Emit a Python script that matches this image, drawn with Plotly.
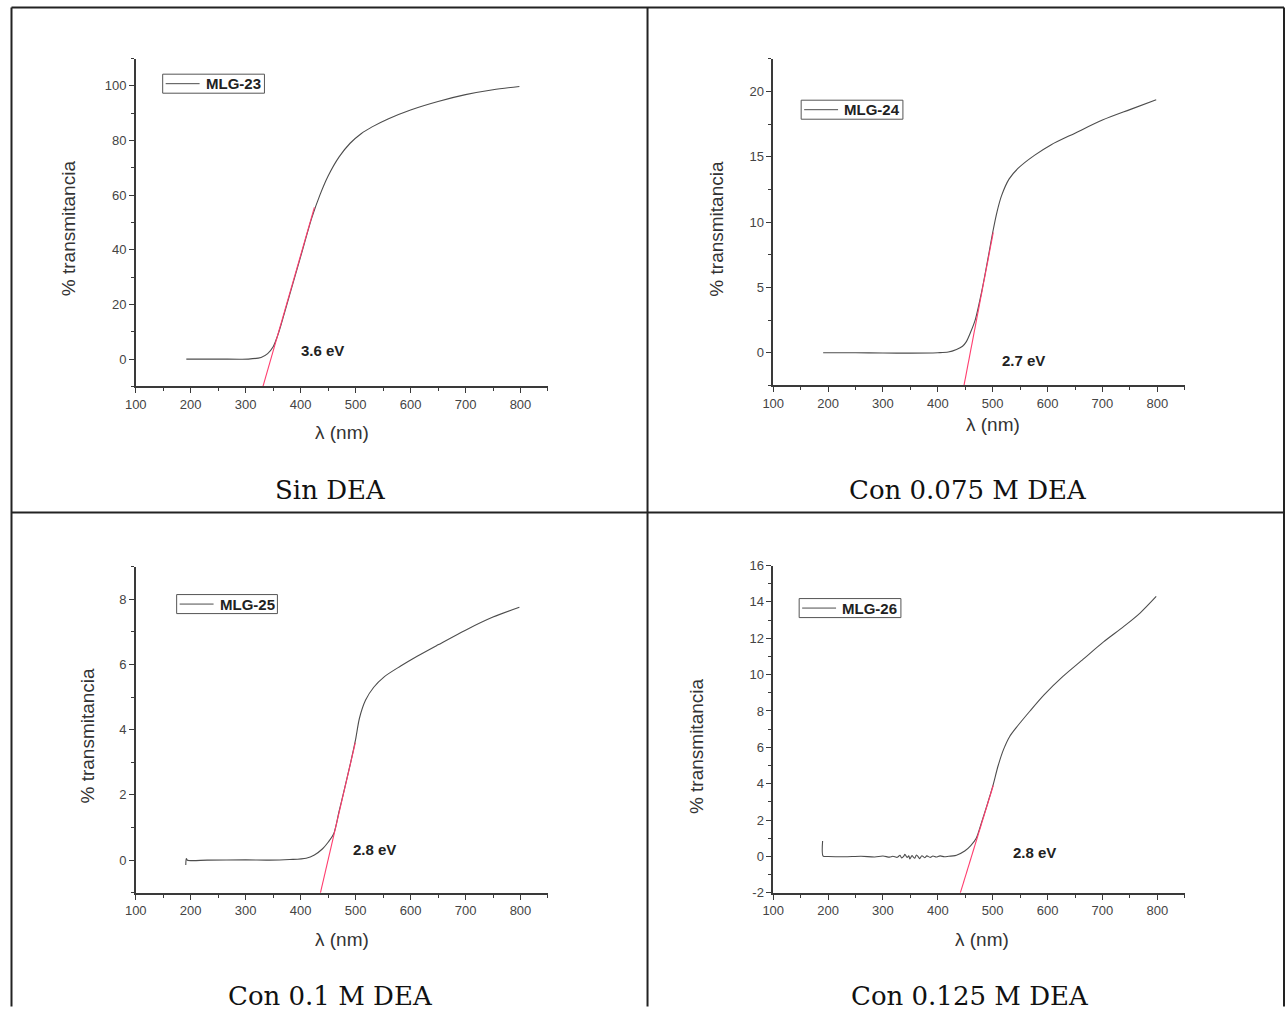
import plotly.graph_objects as go

# Page geometry: the figure sits after an 8 px body margin and the captured page
# (about 1293 x 1031) is resized to 1285 x 1015, so positions are pre-compensated.
W, H = 1285, 1015
OFF = 8
S_X, S_Y = 1293 / 1285, 1031 / 1015

# ---------------- data ----------------
x_ticks = [100, 200, 300, 400, 500, 600, 700, 800]
y_ticks = [
    [0, 20, 40, 60, 80, 100],
    [0, 5, 10, 15, 20],
    [0, 2, 4, 6, 8],
    [-2, 0, 2, 4, 6, 8, 10, 12, 14, 16],
]

# MLG-23  (Sin DEA)
wl_23 = [192, 250, 305, 328, 340, 350, 358, 365, 380, 400, 420, 435, 450, 470, 490, 510, 530, 560, 600, 650, 700, 750, 798]
t_23 = [0.0, 0.0, 0.0, 0.6, 2.0, 4.5, 8.5, 13.0, 23.5, 37.5, 51.5, 60.0, 67.0, 74.0, 79.0, 82.5, 85.0, 88.0, 91.2, 94.3, 96.8, 98.6, 99.8]
fit_23_x = [331.5, 425]
fit_23_y = [-10, 55.5]

# MLG-24  (Con 0.075 M DEA)
wl_24 = [191, 250, 300, 350, 400, 419, 434, 445, 452, 460, 468, 480, 490, 500, 508, 516, 530, 546, 576, 606, 650, 700, 750, 798]
t_24 = [0.0, 0.0, -0.02, -0.03, 0.0, 0.05, 0.25, 0.5, 0.85, 1.6, 2.5, 4.7, 6.9, 9.2, 10.8, 12.0, 13.3, 14.1, 15.1, 15.9, 16.8, 17.8, 18.6, 19.35]
fit_24_x = [447.7, 501]
fit_24_y = [-2.5, 9.2]

# MLG-25  (Con 0.1 M DEA)
wl_25 = [191, 192, 194, 230, 300, 343, 380, 410, 425, 440, 450, 460, 470, 480, 490, 500, 507, 518, 533, 552, 582, 612, 650, 700, 750, 798]
t_25 = [-0.15, 0.05, 0.0, 0.0, 0.01, 0.0, 0.02, 0.06, 0.16, 0.35, 0.55, 0.8, 1.5, 2.2, 2.92, 3.7, 4.35, 4.9, 5.3, 5.62, 5.95, 6.25, 6.6, 7.05, 7.45, 7.75]
fit_25_x = [436, 499.5]
fit_25_y = [-1.0, 3.6]

# MLG-26  (Con 0.125 M DEA)
wl_26 = [190, 191, 200, 230, 260, 285, 300, 312, 318, 326, 331, 334, 338, 340, 344, 347, 349, 353, 355, 358, 361, 365, 367, 371, 376, 380,
         386, 391, 397, 404, 412, 420, 428, 434, 449, 460, 470, 480, 490, 500, 510, 520, 531, 546, 568, 594, 628, 665, 702, 739, 769, 798]
t_26 = [0.85, 0.02, 0.0, -0.02, 0.01, -0.03, 0.02, -0.04, 0.01, -0.05, 0.06, -0.08, 0.02, 0.12, -0.06, 0.03, -0.14, 0.05, -0.02, -0.1, 0.08, -0.05, -0.12, 0.04, -0.07, 0.03,
        -0.05, 0.02, -0.03, 0.03, -0.02, 0.01, 0.03, 0.07, 0.3, 0.6, 1.0, 1.9, 2.85, 3.85, 5.0, 5.9, 6.6, 7.2, 8.0, 8.9, 9.9, 10.85, 11.8, 12.65, 13.4, 14.3]
fit_26_x = [441, 501]
fit_26_y = [-2.0, 3.9]

samples = ["MLG-23", "MLG-24", "MLG-25", "MLG-26"]
captions = ["Sin DEA", "Con 0.075 M DEA", "Con 0.1 M DEA", "Con 0.125 M DEA"]
gaps = ["3.6 eV", "2.7 eV", "2.8 eV", "2.8 eV"]
gap_pos = [(440, 3.2), (557, -0.6), (535, 0.32), (576, 0.22)]

y_ranges = [[-10, 110], [-2.5, 22.5], [-1, 9], [-2, 16]]
y_minor = [10, 2.5, 1, 1]

# ---------------- layout helpers (target pixel -> paper) ----------------
def fx(px):
    v = (px * S_X - OFF) / W
    return min(max(v, 0.5 / W), 1 - 0.5 / W)

def fy(py):
    v = 1 - (py * S_Y - OFF) / H
    return min(max(v, 0.5 / H), 1 - 0.5 / H)

x_dom = [[133, 546.2], [772, 1184.5], [133, 546.2], [772, 1184.5]]
y_dom = [[387, 59.4], [386, 59.5], [893, 567], [893, 566]]
legend_box = [(160, 75, 262, 94), (800, 101, 902, 120), (174, 595, 275, 614), (798, 599, 900, 618)]
ytitle_pos = [(65, 229), (715, 229), (85, 736), (695, 746)]
xtitle_pos = [(340, 433), (992, 425), (340, 940), (981, 940)]
caption_pos = [(328, 491), (967, 491), (328, 996), (969, 996)]

curves = [(wl_23, t_23), (wl_24, t_24), (wl_25, t_25), (wl_26, t_26)]
fits = [(fit_23_x, fit_23_y), (fit_24_x, fit_24_y), (fit_25_x, fit_25_y), (fit_26_x, fit_26_y)]

CURVE = "#4d4d4d"
FIT = "#ff3d6e"
AX = "#3a3a3a"
TXT = "#444444"
SANS = "Liberation Sans, Arial, sans-serif"

fig = go.Figure()
annotations = []
shapes = []
layout = dict(
    width=W, height=H,
    margin=dict(l=0, r=0, t=0, b=0),
    paper_bgcolor="white", plot_bgcolor="white",
    showlegend=False,
)

for i in range(4):
    n = "" if i == 0 else str(i + 1)
    xa, ya = "x" + n, "y" + n
    wl, tr = curves[i]
    fig.add_trace(go.Scatter(
        x=wl, y=tr, mode="lines", name=samples[i],
        line=dict(color=CURVE, width=1.1, shape="spline", smoothing=0.8),
        xaxis=xa, yaxis=ya,
    ))
    fxs, fys = fits[i]
    fig.add_trace(go.Scatter(
        x=fxs, y=fys, mode="lines", name="ajuste " + samples[i],
        line=dict(color=FIT, width=1.1),
        xaxis=xa, yaxis=ya,
    ))

    common_tick = dict(
        ticks="outside", ticklen=5, tickwidth=1.2, tickcolor=AX,
        showline=True, linecolor=AX, linewidth=1.5,
        showgrid=False, zeroline=False,
        tickfont=dict(family=SANS, size=13, color=TXT),
        fixedrange=True,
    )
    layout["xaxis" + n] = dict(
        domain=[fx(x_dom[i][0]), fx(x_dom[i][1])],
        range=[100, 850], tickmode="array", tickvals=x_ticks,
        ticktext=[str(v) for v in x_ticks],
        minor=dict(dtick=50, tick0=0, ticks="outside", ticklen=3, tickcolor=AX, showgrid=False),
        anchor=ya, **common_tick,
    )
    layout["yaxis" + n] = dict(
        domain=[fy(y_dom[i][0]), fy(y_dom[i][1])],
        range=y_ranges[i], tickmode="array", tickvals=y_ticks[i],
        ticktext=[str(v) for v in y_ticks[i]],
        minor=dict(dtick=y_minor[i], tick0=0, ticks="outside", ticklen=3, tickcolor=AX, showgrid=False),
        anchor=xa, **common_tick,
    )

    # legend box (drawn in paper space)
    bx0, by0, bx1, by1 = legend_box[i]
    shapes.append(dict(type="rect", xref="paper", yref="paper",
                       x0=fx(bx0), y0=fy(by0), x1=fx(bx1), y1=fy(by1),
                       line=dict(color="#555555", width=1), fillcolor="white", layer="above"))
    ymid = (by0 + by1) / 2
    shapes.append(dict(type="line", xref="paper", yref="paper",
                       x0=fx(bx0 + 3), y0=fy(ymid), x1=fx(bx0 + 37), y1=fy(ymid),
                       line=dict(color=CURVE, width=1), layer="above"))
    annotations.append(dict(
        x=fx(bx0 + 71), y=fy(ymid), xref="paper", yref="paper",
        xanchor="center", yanchor="middle",
        text=samples[i], showarrow=False,
        font=dict(family=SANS, size=15, color="#222222", weight="bold"),
    ))

    # band-gap label
    annotations.append(dict(
        x=gap_pos[i][0], y=gap_pos[i][1], xref=xa, yref=ya,
        xanchor="center", yanchor="middle",
        text=gaps[i], showarrow=False,
        font=dict(family=SANS, size=15, color="#222222", weight="bold"),
    ))
    # axis titles
    annotations.append(dict(
        x=fx(ytitle_pos[i][0]), y=fy(ytitle_pos[i][1]), xref="paper", yref="paper",
        xanchor="center", yanchor="middle",
        text="% transmitancia", textangle=-90, showarrow=False,
        font=dict(family=SANS, size=19, color="#333333"),
    ))
    annotations.append(dict(
        x=fx(xtitle_pos[i][0]), y=fy(xtitle_pos[i][1]), xref="paper", yref="paper",
        xanchor="center", yanchor="middle",
        text="λ (nm)", showarrow=False,
        font=dict(family=SANS, size=19, color="#333333"),
    ))
    # caption
    cx, cy = caption_pos[i]
    annotations.append(dict(
        x=fx(cx), y=fy(cy), xref="paper", yref="paper",
        xanchor="center", yanchor="middle",
        text=captions[i], showarrow=False, borderpad=0,
        font=dict(family="DejaVu Serif, serif", size=26, color="#111111"),
    ))

# table borders
border = dict(color="#222222", width=2)
for (x0, y0, x1, y1) in [(7, 6, 1284, 6), (7, 513, 1284, 513), (7, 6, 7, 1015), (646, 6, 646, 1015), (1284, 6, 1284, 1015)]:
    shapes.append(dict(type="line", xref="paper", yref="paper",
                       x0=fx(x0), y0=fy(y0), x1=fx(x1), y1=fy(y1), line=border))

layout["annotations"] = annotations
layout["shapes"] = shapes
fig.update_layout(**layout)

fig.write_html("out.html")
